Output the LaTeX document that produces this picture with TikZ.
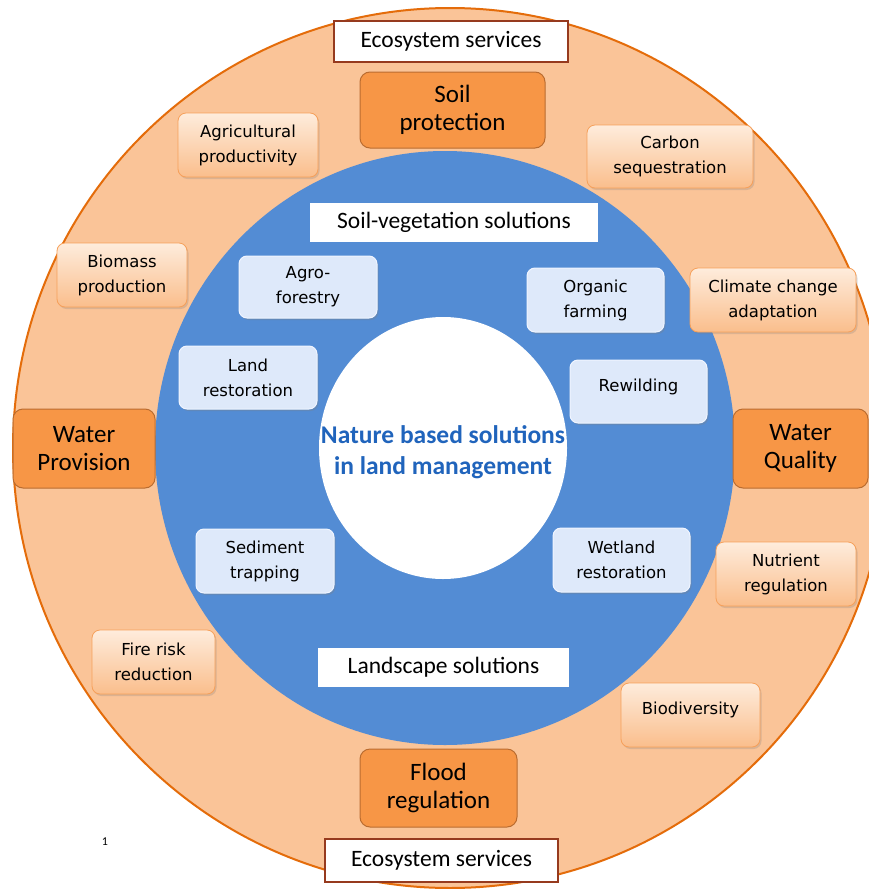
\documentclass[tikz,border=0pt]{standalone}
\usepackage{fontspec}
\setmainfont{Carlito}
\newfontfamily\boxfont{DejaVu Sans}
\usetikzlibrary{shadows}
\definecolor{ringfill}{RGB}{250,196,152}
\definecolor{ringline}{RGB}{228,108,10}
\definecolor{bluering}{RGB}{83,140,212}
\definecolor{orangebox}{RGB}{247,150,70}
\definecolor{orangeline}{RGB}{186,108,48}
\definecolor{svctop}{RGB}{254,236,220}
\definecolor{svcbot}{RGB}{250,190,140}
\definecolor{svcline}{RGB}{246,160,90}
\definecolor{nbsfill}{RGB}{222,233,250}
\definecolor{nbsline}{RGB}{240,245,255}
\definecolor{ecoline}{RGB}{150,58,30}
\definecolor{titleblue}{RGB}{32,100,188}
\tikzset{
  ecobox/.style={draw=ecoline, line width=1.6pt, fill=white, inner sep=0pt,
    font=\fontsize{23.5}{26}\selectfont},
  mainsvc/.style={draw=orangeline, line width=1pt, fill=orangebox, rounded corners=10pt,
    inner sep=0pt, align=center, font=\fontsize{25}{28}\selectfont},
  svcbox/.style={draw=svcline, line width=0.8pt, top color=svctop, bottom color=svcbot,
    rounded corners=8pt, inner sep=0pt, align=center,
    drop shadow={shadow xshift=1.5pt, shadow yshift=-2pt, opacity=0.25},
    font=\boxfont\fontsize{16.5}{25}\selectfont},
  nbsbox/.style={draw=nbsline, line width=1pt, fill=nbsfill,
    rounded corners=8pt, inner sep=0pt, align=center,
    drop shadow={shadow xshift=1.5pt, shadow yshift=-2pt, opacity=0.3},
    font=\boxfont\fontsize{16.5}{25}\selectfont},
  labelbox/.style={fill=white, inner sep=0pt, font=\fontsize{23.5}{26}\selectfont},
}
\begin{document}
\begin{tikzpicture}[x=1pt,y=-1pt]
\useasboundingbox (0,0) rectangle (869,889);
\begin{scope}
\clip (0,0) rectangle (869,889);
\fill[ringfill] (450,448) ellipse [x radius=437, y radius=440];
\draw[ringline, line width=2pt] (450,448) ellipse [x radius=437, y radius=440];
\end{scope}
\fill[bluering] (445,448) ellipse [x radius=290, y radius=297];
\fill[white] (443,448) ellipse [x radius=124, y radius=131];

\node[font=\bfseries\fontsize{25.5}{31}\selectfont, text=titleblue, align=center] (center) at (443,452) {Nature based solutions\\in land management};

\node[ecobox, minimum width=234pt, minimum height=41pt] (ecotop) at (451,41.5) {Ecosystem services};
\node[ecobox, minimum width=233pt, minimum height=43pt] (ecobot) at (441.5,860.5) {Ecosystem services};

\node[mainsvc, minimum width=185pt, minimum height=76pt] (soil) at (452.5,110) {Soil\\protection};
\node[mainsvc, minimum width=142pt, minimum height=79pt] (waterp) at (84,448.5) {Water\\Provision};
\node[mainsvc, minimum width=135pt, minimum height=79pt] (waterq) at (800.5,448.5) {Water\\Quality};
\node[mainsvc, minimum width=157pt, minimum height=78pt] (flood) at (438.5,788) {Flood\\regulation};

\node[svcbox, minimum width=140pt, minimum height=64pt] (agri) at (248,145) {Agricultural\\productivity};
\node[svcbox, minimum width=130pt, minimum height=64pt] (biomass) at (122,275) {Biomass\\production};
\node[svcbox, minimum width=166pt, minimum height=63pt] (carbon) at (670,156.5) {Carbon\\sequestration};
\node[svcbox, minimum width=166pt, minimum height=64pt] (climate) at (773,300) {Climate change\\adaptation};
\node[svcbox, minimum width=140pt, minimum height=64pt] (nutrient) at (786,574) {Nutrient\\regulation};
\node[svcbox, minimum width=139pt, minimum height=64pt] (biodiv) at (690.5,715) {Biodiversity\\[-12pt]\mbox{}};
\node[svcbox, minimum width=123pt, minimum height=64pt] (fire) at (153.5,662) {Fire risk\\reduction};

\node[nbsbox, minimum width=138pt, minimum height=62pt] (agro) at (308,287) {Agro-\\forestry};
\node[nbsbox, minimum width=138pt, minimum height=63pt] (land) at (248,377.5) {Land\\restoration};
\node[nbsbox, minimum width=137pt, minimum height=64pt] (organic) at (595.5,300) {Organic\\farming};
\node[nbsbox, minimum width=137pt, minimum height=63pt] (rewild) at (638.5,391.5) {Rewilding\\[-12pt]\mbox{}};
\node[nbsbox, minimum width=137pt, minimum height=64pt] (wetland) at (621.5,560) {Wetland\\restoration};
\node[nbsbox, minimum width=138pt, minimum height=64pt] (sediment) at (265,561) {Sediment\\trapping};

\node[labelbox, minimum width=288pt, minimum height=39pt] (soilveg) at (454,222.5) {Soil-vegetation solutions};
\node[labelbox, minimum width=251pt, minimum height=39pt] (landscape) at (443.5,667.5) {Landscape solutions};

\node[font=\fontsize{12}{14}\selectfont] (footnote) at (105,842) {1};
\end{tikzpicture}
\end{document}
